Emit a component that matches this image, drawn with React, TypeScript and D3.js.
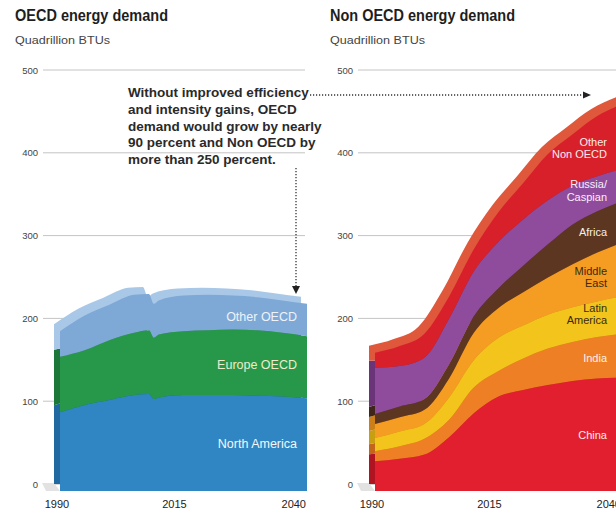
import React from 'react'
import * as d3 from 'd3'

// values, quadrillion BTUs per region (stacked bottom to top)
const oecdYears = [1990, 1995, 2000, 2005, 2008, 2009, 2010, 2015, 2020, 2025, 2030, 2035, 2040]
const northAmerica = [95, 104, 110, 116, 117, 111, 113, 116, 116, 116, 115, 114, 112]
const europeOecd = [67, 66, 72, 75, 77, 74, 76, 77, 78, 79, 79, 77, 75]
const otherOecd = [31, 42, 43, 46, 44, 41, 41, 43, 43, 41, 40, 39, 39]

const nonOecdYears = [1990, 1995, 2000, 2005, 2010, 2015, 2020, 2025, 2030, 2035, 2040]
const china = [36, 39, 44, 65, 94, 114, 122, 128, 133, 136, 137]
const india = [12, 15, 19, 21, 31, 31, 38, 44, 47, 50, 53]
const latinAmerica = [16, 18, 18, 27, 33, 40, 40, 41, 42, 43, 45]
const middleEast = [17, 17, 17, 23, 33, 36, 40, 45, 52, 59, 65]
const africa = [12, 13, 13, 17, 20, 24, 32, 40, 48, 50, 50]
const russiaCaspian = [56, 49, 50, 55, 54, 56, 56, 53, 47, 42, 39]
const otherNonOecd = [18, 24, 29, 27, 27, 36, 44, 56, 62, 73, 78]

const yTicks = [0, 100, 200, 300, 400, 500]
const xTicks = [1990, 2015, 2040]

const annotation = [
  'Without improved efficiency',
  'and intensity gains, OECD',
  'demand would grow by nearly',
  '90 percent and Non OECD by',
  'more than 250 percent.',
]

const FONT = '"Liberation Sans", Arial, Helvetica, sans-serif'
const DX = 6 // 3d depth offset of the front face
const DY = 7

const oecdLayers = [
  { key: 'na', values: northAmerica, color: '#2f86c3', side: '#1f68a0', lines: ['North America'], text: '#f4f6fa' },
  { key: 'eu', values: europeOecd, color: '#27984a', side: '#1c7838', lines: ['Europe OECD'], text: '#eeeccc' },
  { key: 'ot', values: otherOecd, color: '#7ea8d6', side: '#a9c8e8', lines: ['Other OECD'], text: '#eef3fa' },
]

const nonOecdLayers = [
  { key: 'cn', values: china, color: '#e11f2e', side: '#b01420', lines: ['China'], text: '#fbeef0' },
  { key: 'in', values: india, color: '#ee7f24', side: '#c4661a', lines: ['India'], text: '#fdf1e4' },
  { key: 'la', values: latinAmerica, color: '#f2c41c', side: '#c99f12', lines: ['Latin', 'America'], text: '#3a2a10', dy: -5 },
  { key: 'me', values: middleEast, color: '#f59c22', side: '#cc7e18', lines: ['Middle', 'East'], text: '#3a2a10' },
  { key: 'af', values: africa, color: '#5d3621', side: '#40251a', lines: ['Africa'], text: '#f6eee8' },
  { key: 'ru', values: russiaCaspian, color: '#8f4c9d', side: '#6b3478', lines: ['Russia/', 'Caspian'], text: '#f8eefa', dy: -3 },
  { key: 'on', values: otherNonOecd, color: '#d8202b', side: '#e0583c', lines: ['Other', 'Non OECD'], text: '#fbecec', dy: 2 },
]

const Panel = ({ x0, title, titleWidth, years, layers, labelX, labelSize, gridEnd }) => {
  const x = d3.scaleLinear().domain([1990, 2040]).range([x0 + 54, x0 + 301])
  const y = d3.scaleLinear().domain([0, 500]).range([484, 70])
  const rows = years.map((yr, i) => {
    const r: any = { year: yr }
    layers.forEach((l) => (r[l.key] = l.values[i]))
    return r
  })
  const series = d3.stack().keys(layers.map((l) => l.key))(rows)
  const area = d3
    .area<any>()
    .x((d) => x(d.data.year))
    .y0((d) => y(d[0]))
    .y1((d) => y(d[1]))
    .curve(d3.curveMonotoneX)
  const li = years.indexOf(2035)

  return (
    <g>
      <text x={x0 + 15} y={21} fontFamily={FONT} fontWeight="bold" fontSize={16} fill="#1e1e1e"
        textLength={titleWidth} lengthAdjust="spacingAndGlyphs">{title}</text>
      <text x={x0 + 15} y={44} fontFamily={FONT} fontSize={11} fill="#444"
        textLength={95} lengthAdjust="spacingAndGlyphs">Quadrillion BTUs</text>

      {yTicks.map((t) => (
        <g key={t}>
          <line x1={x0 + 43} x2={gridEnd} y1={y(t)} y2={y(t)} stroke={t === 0 ? '#d4d4d4' : '#c4c4c4'} strokeWidth={t === 0 ? 2 : 1} />
          <text x={x0 + 38} y={y(t) + 3.5} textAnchor="end" fontFamily={FONT} fontSize={9.5} fill="#444">{t}</text>
        </g>
      ))}
      <polygon
        points={`${x0 + 42},${y(0) - 1} ${x(1990)},${y(0) - 1} ${x(1990) + DX},${y(0) + DY} ${x0 + 46},${y(0) + DY}`}
        fill="#e2e2e2"
      />

      {/* back copy: side and top faces */}
      <g>
        {series.map((s, i) => (
          <path key={s.key} d={area(s) || ''} fill={layers[i].side} />
        ))}
      </g>
      {/* front face */}
      <g transform={`translate(${DX},${DY})`}>
        {series.map((s, i) => (
          <path key={s.key} d={area(s) || ''} fill={layers[i].color} />
        ))}
      </g>

      {series.map((s, i) => {
        const p = s[li]
        const cy = y((p[0] + p[1]) / 2) + DY + (layers[i].dy || 0)
        const lh = labelSize + 1.5
        const n = layers[i].lines.length
        return (
          <text key={s.key} textAnchor="end" fontFamily={FONT} fontSize={labelSize} fill={layers[i].text}>
            {layers[i].lines.map((ln, k) => (
              <tspan key={k} x={labelX} y={cy + labelSize * 0.36 + (k - (n - 1) / 2) * lh}>{ln}</tspan>
            ))}
          </text>
        )
      })}

      {xTicks.map((t, i) => (
        <text key={t} x={x(t) + [3, -3, 5][i]} y={508} textAnchor={i === 2 ? 'end' : 'middle'}
          fontFamily={FONT} fontSize={11} fill="#222">{t}</text>
      ))}
    </g>
  )
}

const App = () => {
  const lineH = 16.8
  return (
    <svg width={616} height={512} style={{ position: 'absolute', left: 0, top: 0, background: '#fff' }}>
      <rect width={616} height={512} fill="#fff" />
      <Panel x0={0} title="OECD energy demand" titleWidth={153} years={oecdYears} layers={oecdLayers}
        labelX={297} labelSize={12.5} gridEnd={305} />
      <Panel x0={315} title="Non OECD energy demand" titleWidth={185} years={nonOecdYears} layers={nonOecdLayers}
        labelX={607} labelSize={11} gridEnd={616} />

      {/* annotation */}
      <text fontFamily={FONT} fontWeight="bold" fontSize={13.5} fill="#2a2a2a">
        {annotation.map((t, i) => (
          <tspan key={i} x={128} y={97 + i * lineH}>{t}</tspan>
        ))}
      </text>
      <line x1={310} x2={585} y1={95} y2={95} stroke="#333" strokeWidth={1.3} strokeDasharray="1.2,1.8" />
      <polygon points="583,91.5 591,95 583,98.5" fill="#222" />
      <line x1={296} x2={296} y1={168} y2={286} stroke="#333" strokeWidth={1.3} strokeDasharray="1.2,1.8" />
      <polygon points="292,286 300,286 296,294" fill="#222" />
    </svg>
  )
}

export default App
